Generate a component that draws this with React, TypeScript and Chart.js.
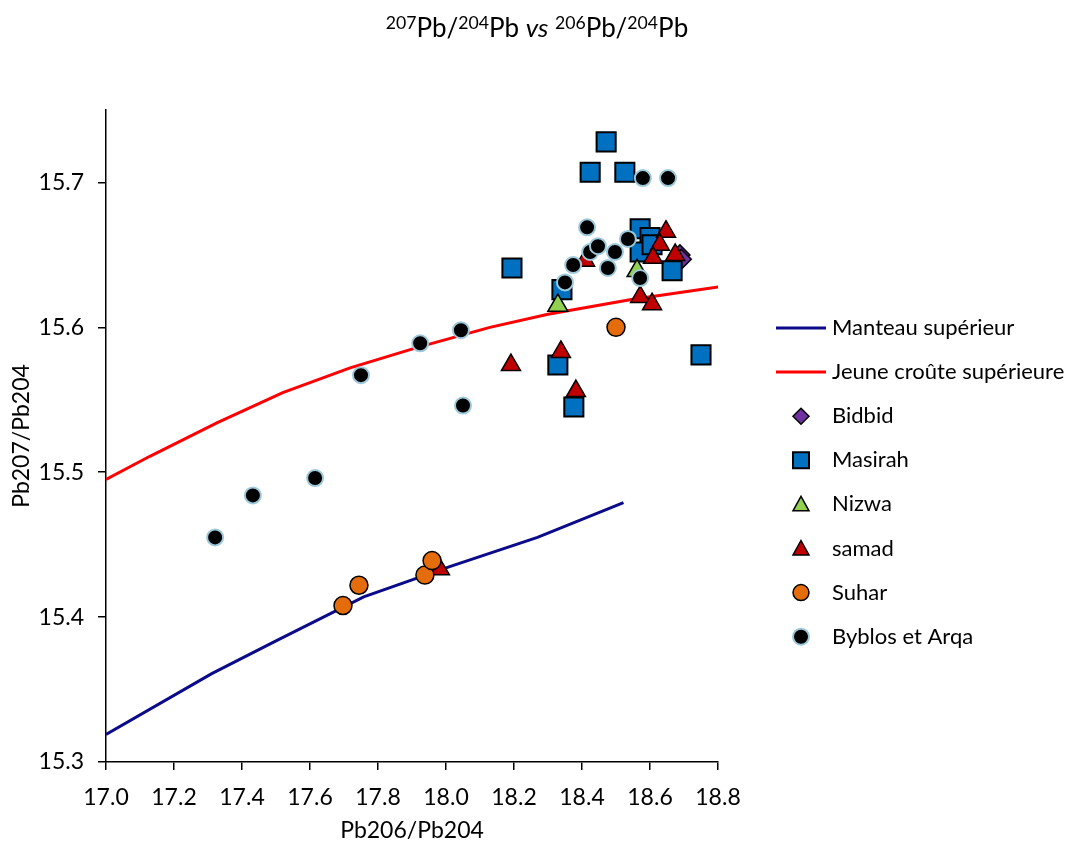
import React, { useEffect, useRef } from 'react';
import { Chart, registerables } from 'chart.js';

Chart.register(...registerables);

// ---- tick labels ----
const xTicks = [17.0, 17.2, 17.4, 17.6, 17.8, 18.0, 18.2, 18.4, 18.6, 18.8];
const yTicks = [15.3, 15.4, 15.5, 15.6, 15.7];

// ---- model curves ----
const manteauX = [17.0, 17.311, 17.503, 17.758, 18.013, 18.269, 18.522];
const manteauY = [15.319, 15.361, 15.384, 15.414, 15.435, 15.455, 15.479];

const crouteX = [17.0, 17.129, 17.326, 17.52, 17.718, 17.914, 18.129, 18.3, 18.541, 18.806];
const crouteY = [15.495, 15.511, 15.534, 15.555, 15.572, 15.586, 15.600, 15.609, 15.619, 15.628];

// ---- samples ----
const bidbidX = [18.688, 18.692];
const bidbidY = [15.650, 15.647];

const masirahX = [18.471, 18.424, 18.526, 18.194, 18.341, 18.329, 18.376, 18.750, 18.665, 18.571, 18.600, 18.571, 18.606];
const masirahY = [15.728, 15.707, 15.707, 15.641, 15.626, 15.574, 15.545, 15.581, 15.639, 15.668, 15.662, 15.652, 15.657];

const nizwaX = [18.329, 18.562];
const nizwaY = [15.615, 15.639];

const samadX = [18.191, 18.338, 18.382, 17.982, 18.571, 18.606, 18.647, 18.629, 18.609, 18.674, 18.409];
const samadY = [15.574, 15.583, 15.556, 15.433, 15.621, 15.616, 15.666, 15.657, 15.648, 15.650, 15.646];

const suharX = [18.500, 17.697, 17.744, 17.938, 17.959];
const suharY = [15.600, 15.408, 15.422, 15.429, 15.439];

const byblosX = [17.321, 17.432, 17.615, 17.750, 17.924, 18.044, 18.050, 18.350, 18.374, 18.415, 18.424, 18.447, 18.497, 18.476, 18.535, 18.571, 18.579, 18.653];
const byblosY = [15.455, 15.484, 15.496, 15.567, 15.589, 15.598, 15.546, 15.631, 15.643, 15.669, 15.652, 15.656, 15.652, 15.641, 15.661, 15.634, 15.703, 15.703];

const zip = (xs: number[], ys: number[]) => xs.map((x, i) => ({ x, y: ys[i] }));

const FONT = 'Lato, "Open Sans", sans-serif';

function drawMarker(ctx: CanvasRenderingContext2D, style: string, x: number, y: number, r: number) {
  ctx.beginPath();
  if (style === 'rect') {
    ctx.rect(x - r, y - r, 2 * r, 2 * r);
  } else if (style === 'rectRot') {
    ctx.moveTo(x, y - r);
    ctx.lineTo(x + r, y);
    ctx.lineTo(x, y + r);
    ctx.lineTo(x - r, y);
    ctx.closePath();
  } else if (style === 'triangle') {
    ctx.moveTo(x, y - r);
    ctx.lineTo(x + r, y + r * 0.8);
    ctx.lineTo(x - r, y + r * 0.8);
    ctx.closePath();
  } else {
    ctx.arc(x, y, r, 0, Math.PI * 2);
  }
  ctx.fill();
  ctx.stroke();
}

const legendPlugin = {
  id: 'sideLegend',
  afterDraw(chart: any) {
    const ctx: CanvasRenderingContext2D = chart.ctx;
    const startY = 328;
    const step = 44.1;
    const symX = 801;
    const textX = 832;
    ctx.save();
    chart.data.datasets.forEach((ds: any, i: number) => {
      const y = startY + i * step;
      if (ds.showLine) {
        ctx.strokeStyle = ds.borderColor;
        ctx.lineWidth = 3;
        ctx.beginPath();
        ctx.moveTo(symX - 25, y);
        ctx.lineTo(symX + 25, y);
        ctx.stroke();
      } else {
        ctx.fillStyle = ds.backgroundColor;
        ctx.strokeStyle = ds.borderColor;
        ctx.lineWidth = ds.borderWidth;
        drawMarker(ctx, ds.pointStyle, symX, y, 8);
      }
      ctx.fillStyle = '#000';
      ctx.font = `22px ${FONT}`;
      ctx.textBaseline = 'middle';
      ctx.textAlign = 'left';
      ctx.fillText(ds.label, textX, y);
    });
    ctx.restore();
  },
};

export default function App() {
  const ref = useRef<HTMLCanvasElement | null>(null);

  useEffect(() => {
    if (!ref.current) return;
    const n = 8;
    const datasets: any[] = [
      {
        label: 'Manteau supérieur',
        data: zip(manteauX, manteauY),
        showLine: true,
        borderColor: '#0A0A8A',
        backgroundColor: '#0A0A8A',
        borderWidth: 3,
        pointRadius: 0,
        tension: 0,
        order: n,
      },
      {
        label: 'Jeune croûte supérieure',
        data: zip(crouteX, crouteY),
        showLine: true,
        borderColor: '#FF0000',
        backgroundColor: '#FF0000',
        borderWidth: 3,
        pointRadius: 0,
        tension: 0,
        order: n - 1,
      },
      {
        label: 'Bidbid',
        data: zip(bidbidX, bidbidY),
        pointStyle: 'rectRot',
        pointRadius: 10,
        backgroundColor: '#7030A0',
        borderColor: '#000000',
        borderWidth: 1.5,
        order: n - 2,
      },
      {
        label: 'Masirah',
        data: zip(masirahX, masirahY),
        pointStyle: 'rect',
        pointRadius: 13.5,
        backgroundColor: '#0070C0',
        borderColor: '#000000',
        borderWidth: 2,
        order: n - 3,
      },
      {
        label: 'Nizwa',
        data: zip(nizwaX, nizwaY),
        pointStyle: 'triangle',
        pointRadius: 11.5,
        backgroundColor: '#92D050',
        borderColor: '#000000',
        borderWidth: 1.5,
        order: n - 4,
      },
      {
        label: 'samad',
        data: zip(samadX, samadY),
        pointStyle: 'triangle',
        pointRadius: 11,
        backgroundColor: '#C00000',
        borderColor: '#000000',
        borderWidth: 1.5,
        order: n - 5,
      },
      {
        label: 'Suhar',
        data: zip(suharX, suharY),
        pointStyle: 'circle',
        pointRadius: 9,
        backgroundColor: '#E46C0A',
        borderColor: '#000000',
        borderWidth: 1.5,
        order: n - 6,
      },
      {
        label: 'Byblos et Arqa',
        data: zip(byblosX, byblosY),
        pointStyle: 'circle',
        pointRadius: 8,
        backgroundColor: '#000000',
        borderColor: '#9CC8DA',
        borderWidth: 2,
        order: n - 7,
      },
    ];

    const tickFont = { family: FONT, size: 23 };
    const chart = new Chart(ref.current, {
      type: 'scatter',
      data: { datasets },
      plugins: [legendPlugin],
      options: {
        animation: false,
        responsive: true,
        maintainAspectRatio: false,
        events: [],
        layout: { padding: { top: 110, right: 356, left: 0, bottom: 0 } },
        plugins: {
          legend: { display: false },
          title: { display: false },
          tooltip: { enabled: false },
        },
        scales: {
          x: {
            type: 'linear',
            min: 17.0,
            max: 18.8,
            afterBuildTicks: (s: any) => {
              s.ticks = xTicks.map((v) => ({ value: v }));
            },
            afterFit: (s: any) => {
              s.height = 84;
            },
            ticks: {
              callback: (v: any) => Number(v).toFixed(1),
              font: tickFont,
              color: '#000',
              padding: 14,
              maxRotation: 0,
              autoSkip: false,
            },
            grid: {
              display: true,
              drawOnChartArea: false,
              drawTicks: true,
              tickLength: 8,
              color: '#000',
              lineWidth: 1.5,
            },
            border: { display: true, color: '#000', width: 1.5 },
            title: {
              display: true,
              text: 'Pb206/Pb204',
              font: tickFont,
              color: '#000',
              padding: { top: 0, bottom: 2 },
            },
          },
          y: {
            type: 'linear',
            min: 15.3,
            max: 15.75,
            afterBuildTicks: (s: any) => {
              s.ticks = yTicks.map((v) => ({ value: v }));
            },
            afterFit: (s: any) => {
              s.width = 106;
            },
            ticks: {
              callback: (v: any) => Number(v).toFixed(1),
              font: tickFont,
              color: '#000',
              padding: 14,
              autoSkip: false,
            },
            grid: {
              display: true,
              drawOnChartArea: false,
              drawTicks: true,
              tickLength: 8,
              color: '#000',
              lineWidth: 1.5,
            },
            border: { display: true, color: '#000', width: 1.5 },
            title: {
              display: true,
              text: 'Pb207/Pb204',
              font: tickFont,
              color: '#000',
              padding: { top: 8, bottom: 0 },
            },
          },
        },
      } as any,
    });
    return () => chart.destroy();
  }, []);

  const sup: React.CSSProperties = { fontSize: '0.68em', position: 'relative', top: '-0.45em' };

  return (
    <div style={{ position: 'fixed', left: 0, top: 0, width: 1074, height: 846, background: '#fff' }}>
      <div
        style={{
          position: 'absolute',
          left: 0,
          top: 12,
          width: 1074,
          textAlign: 'center',
          fontFamily: FONT,
          fontSize: 26,
          lineHeight: 1.2,
          color: '#000',
          whiteSpace: 'nowrap',
          zIndex: 2,
        }}
      >
        <span style={sup}>207</span>Pb/<span style={sup}>204</span>Pb <i>vs</i> <span style={sup}>206</span>Pb/
        <span style={sup}>204</span>Pb
      </div>
      <canvas ref={ref} style={{ position: 'absolute', left: 0, top: 0 }} />
    </div>
  );
}
